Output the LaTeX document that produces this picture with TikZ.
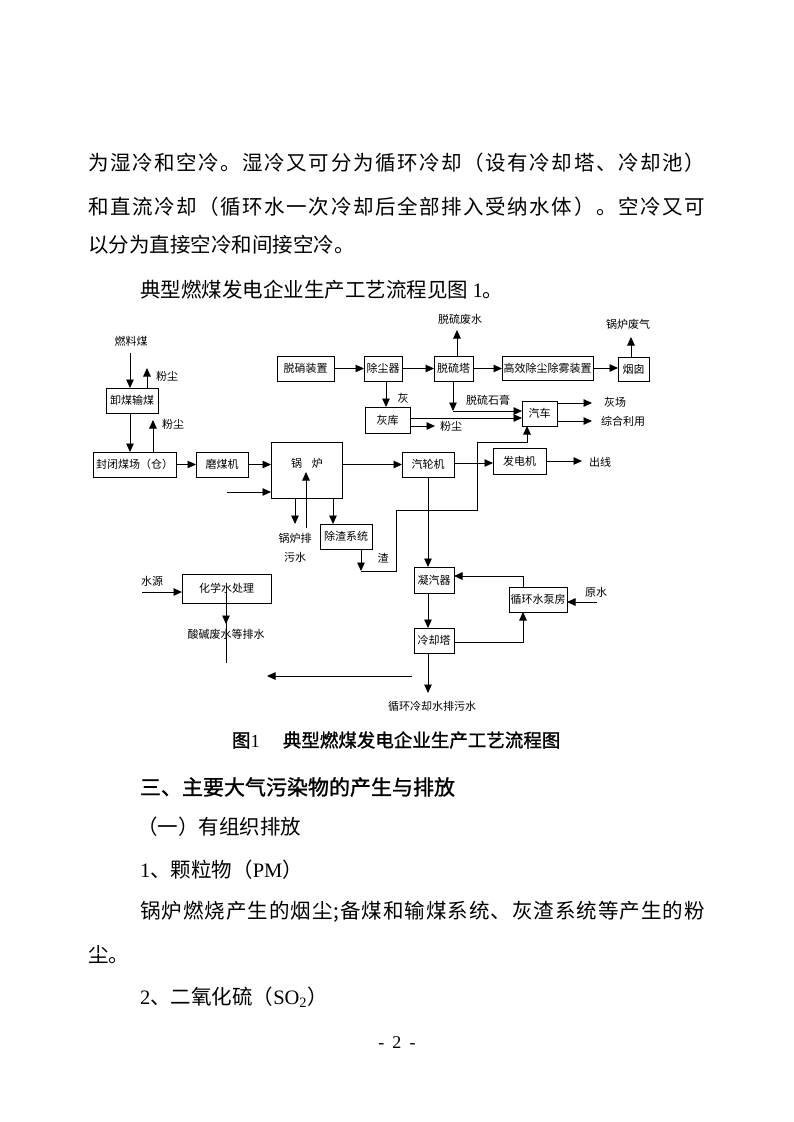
\documentclass[tikz,border=0pt]{standalone}
\usepackage{fontspec}
\setmainfont{Liberation Serif}
\newfontfamily\cjk{Noto Sans CJK SC}
\newfontfamily\cjkh[FakeBold=1.2]{Noto Sans CJK SC}
\newfontfamily\lat{Liberation Serif}
\usetikzlibrary{arrows.meta}
\def\spreadA#1{\ifx\relax#1\else#1\hskip0pt plus 1fil\expandafter\spreadA\fi}
\newcommand\jline[2]{\hbox to #1{\spreadA#2\relax\unskip}}
\begin{document}
\begin{tikzpicture}[x=1pt,y=-1pt,
  every node/.style={inner sep=0pt, outer sep=0pt},
  box/.style={draw, line width=0.9pt, font=\cjk\fontsize{11}{11}\selectfont, align=center},
  lbl/.style={font=\cjk\fontsize{11}{11}\selectfont},
  ln/.style={line width=0.9pt},
  arr/.style={line width=0.9pt, -{Triangle[length=8.5pt,width=7.5pt]}},
  body/.style={anchor=west, font=\cjk\fontsize{20.5}{20.5}\selectfont},
]
\fill[white] (0,0) rectangle (793,1122);
\useasboundingbox (0,0) rectangle (793,1122);

% ---------- body text above ----------
\node[body] (p1) at (88,163) {\jline{617pt}{为湿冷和空冷。湿冷又可分为循环冷却（设有冷却塔、冷却池）}};
\node[body] (p2) at (88,207) {\jline{617pt}{和直流冷却（循环水一次冷却后全部排入受纳水体）。空冷又可}};
\node[body] (p3) at (88,245) {以分为直接空冷和间接空冷。};
\node[body] (p4) at (140,290) {典型燃煤发电企业生产工艺流程见图 {\lat 1}。};

% ---------- boxes ----------
\node[box, minimum width=52pt, minimum height=25pt] (xiemei) at (132,400.5) {卸煤输煤};
\node[box, minimum width=83pt, minimum height=25pt] (fengbi) at (134.5,464.5) {封闭煤场（仓）};
\node[box, minimum width=52pt, minimum height=25pt] (momei) at (222,464.5) {磨煤机};
\node[box, minimum width=71pt, minimum height=56pt] (guolu) at (306.5,470) {};
\node[box, minimum width=52pt, minimum height=25pt] (chuzha) at (346,536.5) {除渣系统};
\node[box, minimum width=52pt, minimum height=25pt] (qilun) at (428,464.5) {汽轮机};
\node[box, minimum width=53pt, minimum height=26pt] (fadian) at (519.5,461) {发电机};
\node[box, minimum width=57pt, minimum height=25pt] (tuoxiao) at (305.5,368.5) {脱硝装置};
\node[box, minimum width=38pt, minimum height=25pt] (chuchen) at (383,368.5) {除尘器};
\node[box, minimum width=39pt, minimum height=25pt] (tuoliu) at (453.5,368.5) {脱硫塔};
\node[box, minimum width=91pt, minimum height=24pt] (gaoxiao) at (547.5,368) {高效除尘除雾装置};
\node[box, minimum width=31pt, minimum height=24pt] (yancong) at (633.5,369) {烟囱};
\node[box, minimum width=45pt, minimum height=26pt] (huiku) at (387.5,420) {灰库};
\node[box, minimum width=35pt, minimum height=25pt] (qiche) at (539.5,413.5) {汽车};
\node[box, minimum width=40pt, minimum height=26pt] (ningqi) at (434,580) {凝汽器};
\node[box, minimum width=40pt, minimum height=25pt] (lengque) at (434,640.5) {冷却塔};
\node[box, minimum width=58pt, minimum height=25pt] (xunhuan) at (538,599.5) {循环水泵房};
\node[box, minimum width=89pt, minimum height=29pt] (huaxue) at (226.5,588.5) {化学水处理};

% ---------- labels ----------
\node[lbl] (gltxt) at (307,463) {锅\hspace{0.9em}炉};
\node[lbl] (ranliao) at (131,341) {燃料煤};
\node[lbl] (fc1) at (167,376) {粉尘};
\node[lbl] (fc2) at (173,424) {粉尘};
\node[lbl] (gpw1) at (295,538) {锅炉排};
\node[lbl] (gpw2) at (295,557) {污水};
\node[lbl] (zha) at (383,558) {渣};
\node[lbl] (chuxian) at (600,462) {出线};
\node[lbl] (tlfs) at (460,319) {脱硫废水};
\node[lbl] (glfq) at (628,324) {锅炉废气};
\node[lbl] (hui) at (403,398) {灰};
\node[lbl] (fc3) at (451,426) {粉尘};
\node[lbl] (tlsg) at (488,400) {脱硫石膏};
\node[lbl] (huichang) at (615,402) {灰场};
\node[lbl] (zonghe) at (623,421) {综合利用};
\node[lbl] (yuanshui) at (596,592) {原水};
\node[lbl] (shuiyuan) at (152,581) {水源};
\node[lbl] (suanjian) at (226,634) {酸碱废水等排水};
\node[lbl] (xhls) at (432,706) {循环冷却水排污水};

% ---------- connectors ----------
\coordinate (c1) at (130,353);
\draw[arr] (c1) -- (c1 |- xiemei.north);
\coordinate (fc1a) at (147,368);
\draw[arr] (fc1a |- xiemei.north) -- (fc1a);
\coordinate (c2) at (130,0);
\draw[arr] (c2 |- xiemei.south) -- (c2 |- fengbi.north);
\coordinate (fc2a) at (153,420);
\draw[arr] (fc2a |- fengbi.north) -- (fc2a);
\draw[arr] (fengbi.east) -- (momei.west);
\draw[arr] (momei.east) -- (momei.east -| guolu.west);
\coordinate (inA) at (227,492);
\draw[arr] (inA) -- (inA -| guolu.west);
\coordinate (pwA) at (295,524);
\draw[arr] (pwA |- guolu.south) -- (pwA);
\coordinate (pwB) at (306,528);
\coordinate (pwC) at (306,472);
\draw[arr] (pwB) -- (pwC);
\coordinate (czA) at (333,0);
\draw[arr] (czA |- guolu.south) -- (czA |- chuzha.north);
\draw[arr] (qilun.west -| guolu.east) -- (qilun.west);
\coordinate (fdY) at (0,463);
\draw[arr] (fdY -| qilun.east) -- (fdY -| fadian.west);
\coordinate (cxA) at (582,461);
\draw[arr] (fadian.east) -- (cxA);
\coordinate (zA) at (361,571);
\draw[arr] (zA |- chuzha.south) -- (zA);
\coordinate (qcA) at (527,0);
\draw[arr] (zA) -- (396,571) -- (396,510) -- (477,510) -- (477,442) -| (qcA |- qiche.south);
\draw[arr] (qilun.south) -- (qilun.south |- ningqi.north);
\coordinate (xhA) at (523,576);
\draw[arr] (xhA |- xunhuan.north) -- (xhA) -- (xhA -| ningqi.east);
\coordinate (ysA) at (597,602);
\draw[arr] (ysA) -- (ysA -| xunhuan.east);
\draw[arr] (qilun.south |- ningqi.south) -- (qilun.south |- lengque.north);
\coordinate (lqY) at (0,642);
\draw[arr] (lqY -| lengque.east) -| (xhA |- xunhuan.south);
\coordinate (xhlsA) at (428,693);
\draw[arr] (xhlsA |- lengque.south) -- (xhlsA);
\coordinate (lA) at (412,676);
\coordinate (lB) at (267,676);
\draw[arr] (lA) -- (lB);
\coordinate (syA) at (142,592);
\draw[arr] (syA) -- (syA -| huaxue.west);
\coordinate (hxA) at (226,663);
\coordinate (hxB) at (226,624);
\draw[ln] (hxA |- huaxue.center) -- (hxA);
\draw[arr] (hxA |- huaxue.center) -- (hxB);
\draw[arr] (tuoxiao.east) -- (chuchen.west);
\draw[arr] (chuchen.east) -- (tuoliu.west);
\coordinate (tlA) at (457,330);
\draw[arr] (tlA |- tuoliu.north) -- (tlA);
\draw[arr] (tuoliu.east) -- (tuoliu.east -| gaoxiao.west);
\draw[arr] (gaoxiao.east) -- (gaoxiao.east -| yancong.west);
\coordinate (ycA) at (631,337);
\draw[arr] (ycA |- yancong.north) -- (ycA);
\coordinate (hkA) at (386,0);
\draw[arr] (hkA |- chuchen.south) -- (hkA |- huiku.north);
\coordinate (fc3a) at (435,426);
\draw[arr] (fc3a -| huiku.east) -- (fc3a);
\coordinate (hkY) at (0,418);
\draw[arr] (hkY -| huiku.east) -- (hkY -| qiche.west);
\coordinate (tsA) at (453,411);
\draw[arr] (tsA |- tuoliu.south) -- (tsA);
\draw[arr] (tsA) -- (tsA -| qiche.west);
\coordinate (qcB) at (592,403);
\coordinate (qcC) at (592,421);
\draw[arr] (qcB -| qiche.east) -- (qcB);
\draw[arr] (qcC -| qiche.east) -- (qcC);

% ---------- text below ----------
\node[anchor=west, font=\cjkh\fontsize{18.5}{18.5}\selectfont] (cap) at (232,740) {图{\lat 1}\hspace{1.25em}典型燃煤发电企业生产工艺流程图};
\node[anchor=west, font=\cjkh\fontsize{21}{21}\selectfont] (h3) at (140,787) {三、主要大气污染物的产生与排放};
\node[body] (h31) at (137,827) {（一）有组织排放};
\node[body] (h311) at (140,870) {{\lat 1}、颗粒物（{\lat PM}）};
\node[body] (p5) at (140,912) {\jline{565pt}{锅炉燃烧产生的烟尘;备煤和输煤系统、灰渣系统等产生的粉}};
\node[body] (p6) at (88,955) {尘。};
\node[body] (h312) at (140,997) {{\lat 2}、二氧化硫（{\lat SO\textsubscript{2}}）};
\node[font=\lat\fontsize{18}{18}\selectfont] (pg) at (397,1043) {-\hspace{0.45em}2\hspace{0.45em}-};
\end{tikzpicture}
\end{document}
